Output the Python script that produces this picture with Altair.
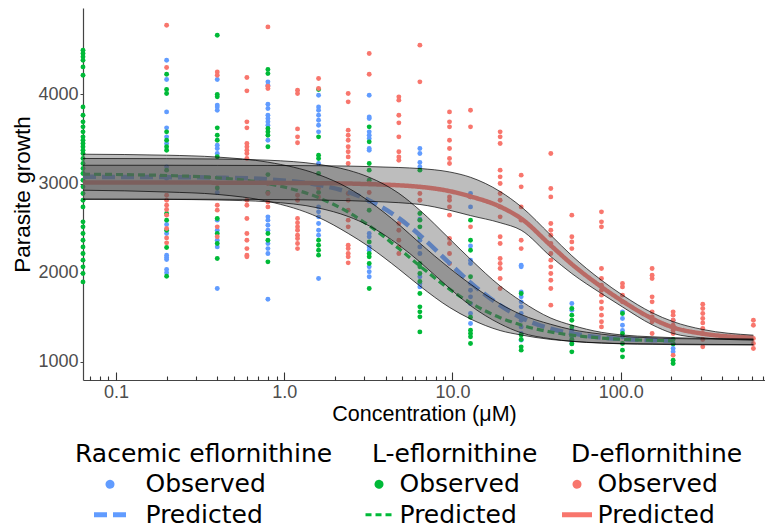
import altair as alt
import pandas as pd

COMPOUNDS = ["Racemic eflornithine", "L-eflornithine", "D-eflornithine"]
POINT_COLORS = ["#619CFF", "#00BA38", "#F8766D"]

# ---- observed values (concentration -> growth readings) ----
RAC_OBS = {
    0.2: [4384, 4167, 3804, 3625, 3524, 3449, 3187, 3056, 2540, 2439, 2196, 2170, 2147, 2035, 1998],
    0.4: [4167, 3880, 3860, 3823, 3430, 3393, 3337, 2900, 2589, 2476, 2364, 2289, 1822],
    0.8: [4141, 4103, 3890, 3842, 3767, 3730, 3692, 3654, 3486, 2626, 2589, 2532, 2476, 2327, 2270, 2214, 1702],
    1.6: [3991, 3860, 3823, 3767, 3711, 3654, 3580, 3224, 2738, 2682, 2626, 2552, 2476, 2420, 1934],
    3.2: [3991, 3748, 3730, 3580, 3542, 3505, 3393, 3374, 2800, 2439, 2402, 2289, 2252, 2065, 2010, 1953],
    6.4: [3393, 3337, 3236, 3187, 2600, 2364, 2289, 2214, 1953, 1878, 1840],
    12.8: [2888, 2850, 2738, 2300, 2140, 2103, 1878, 1803, 1728, 1653, 1541, 1429],
    25.6: [2084, 2065, 1784, 1728, 1672, 1616, 1541, 1466, 1391, 1317, 1242],
    51.2: [1653, 1578, 1354, 1279, 1242, 1204],
    102.4: [1560, 1485, 1410, 1350, 1279],
    204.8: [1466, 1391, 1204, 1148, 1111],
}
L_OBS = {
    0: [4496, 4459, 4422, 4384, 4309, 4216, 3860, 3767, 3692, 3636, 3580, 3524, 3486, 3449, 3412, 3374,
        3337, 3281, 3224, 3168, 3112, 3037, 2963, 2888, 2813, 2738, 2570, 2514, 2439, 2364, 2289, 2214,
        2140, 2065, 1990, 1896],
    0.2: [4227, 4055, 4010, 3580, 3486, 3412, 3374, 3150, 2663, 2589, 2476, 2282, 1960],
    0.4: [4665, 3999, 3973, 3625, 3542, 3486, 3300, 2950, 2607, 2439, 2327, 2158],
    0.8: [4279, 4234, 3617, 3580, 3542, 3412, 3100, 2900, 2439, 2364, 2121],
    1.6: [4055, 3524, 3318, 3281, 3112, 2900, 2364, 2308, 2252, 2196],
    3.2: [3636, 3468, 3224, 3150, 3037, 2700, 2345, 2214, 2177, 2103, 1822],
    6.4: [3150, 2663, 2589, 2514, 2402, 2103, 2065, 1990, 1900, 1766, 1616, 1560, 1504, 1335],
    12.8: [2589, 2364, 2252, 1953, 1500, 1354, 1317, 1279, 1204],
    25.6: [1766, 1300, 1250, 1167, 1130],
    51.2: [1597, 1523, 1466, 1391, 1250, 1200, 1111],
    102.4: [1541, 1317, 1204, 1130, 1055],
    204.8: [1250, 1200, 1017, 980],
}
D_OBS = {
    0.2: [4777, 4302, 2869, 2813, 2757, 2708, 2645, 2495, 2390, 2334],
    0.4: [4253, 4216, 3000, 2757, 2701, 2514, 2402],
    0.6: [4190, 4040, 3692, 3625, 3449, 3412, 3374, 3337, 3281, 2813, 2757, 2607, 2439, 2364, 2270, 2196, 2177],
    0.8: [4758, 4092, 4066, 3000, 2888, 2794, 2738],
    1.2: [4047, 4010, 3613, 3524, 3457, 2869, 2813, 2607, 2559, 2514, 2476, 2420, 2383, 2327, 2270],
    1.6: [4178, 4066, 2950, 2850],
    2.4: [4010, 3917, 3599, 3542, 3486, 3412, 3356, 3299, 3224, 2888, 2813, 2701, 2589, 2514, 2308, 2270, 2214, 2177, 2110],
    3.2: [4459, 4227, 3000, 2900],
    4.8: [3973, 3936, 3767, 3681, 3524, 3356, 3299, 3262, 2551, 2476, 2364, 2289, 2214],
    6.4: [4553, 4141, 2888, 2813],
    9.6: [3804, 3692, 3636, 3486, 3393, 3281, 3224, 2850, 2813, 2738, 2645, 2383, 2327, 2214, 2103],
    12.8: [3823, 3636, 2850, 2514],
    19.2: [3580, 3524, 3449, 3150, 3075, 3000, 2888, 2813, 2738, 2626, 2402, 2327, 2158, 2103, 2047, 1934, 1822],
    25.6: [3094, 2963, 2738, 2589, 2364, 2270],
    38.4: [3337, 2944, 2850, 2552, 2476, 2420, 2327, 2214, 2140, 2065, 1990, 1915, 1822, 1635],
    51.2: [2645, 2402, 2345, 2270],
    76.8: [2682, 2570, 2514, 2047, 1934, 1859, 1803, 1747, 1672, 1597, 1523, 1448, 1391],
    102.4: [1878, 1840, 1747, 1672],
    153.6: [2047, 1972, 1934, 1728, 1672, 1560, 1504, 1448, 1317, 1242],
    204.8: [1560, 1523, 1466, 1410, 1354, 1317, 1073],
    307.2: [1646, 1597, 1541, 1485, 1436, 1373, 1317, 1249, 1167],
    614.4: [1466, 1410, 1260, 1204, 1148],
}

# ---- predicted curves and confidence bands ----
CURVE_CONC = [0.0637, 0.2, 0.4, 0.8, 1.6, 2.4, 3.2, 4.8, 6.4, 9.6, 12.8, 19.2, 25.6, 38.4,
              51.2, 76.8, 102.4, 153.6, 204.8, 307.2, 614.4]
RAC_PRED = [3075, 3072, 3066, 3047, 2985, 2903, 2810, 2611, 2420, 2106, 1888, 1633, 1495, 1370,
            1318, 1272, 1255, 1242, 1235]
L_PRED = [3105, 3090, 3065, 2999, 2842, 2679, 2527, 2270, 2075, 1815, 1661, 1494, 1412, 1334,
          1298, 1266, 1252, 1240, 1235]
D_PRED = [3011, 3011, 3010, 3008, 3004, 3000, 2993, 2980, 2963, 2915, 2855, 2740, 2607, 2305,
          2095, 1840, 1680, 1485, 1385, 1315, 1270]
RAC_UP = [3281, 3279, 3275, 3262, 3215, 3150, 3070, 2890, 2700, 2380, 2150, 1850, 1680, 1490,
          1410, 1330, 1300, 1280, 1270, 1262, 1255]
RAC_LO = [2824, 2822, 2815, 2795, 2725, 2630, 2525, 2310, 2120, 1825, 1630, 1425, 1325, 1258,
          1228, 1210, 1204, 1200, 1198, 1195, 1192]
L_UP = [3329, 3318, 3297, 3240, 3100, 2950, 2800, 2540, 2330, 2050, 1870, 1650, 1530, 1420,
        1360, 1310, 1285, 1268, 1260, 1255, 1250]
L_LO = [2925, 2905, 2878, 2800, 2620, 2440, 2290, 2040, 1850, 1610, 1480, 1350, 1300, 1250,
        1230, 1210, 1200, 1195, 1192, 1190, 1188]
D_UP = [3205, 3205, 3204, 3203, 3200, 3196, 3190, 3180, 3168, 3130, 3070, 2910, 2740, 2420,
        2190, 1915, 1748, 1550, 1450, 1362, 1298]
D_LO = [2824, 2824, 2823, 2820, 2815, 2808, 2800, 2785, 2765, 2700, 2640, 2560, 2476, 2180,
        1990, 1765, 1615, 1415, 1317, 1268, 1242]

X_LABELS = [0.1, 1, 10, 100]
Y_LABELS = [1000, 2000, 3000, 4000]
MAJOR_TICKS = [0.1, 1, 10, 100]
MINOR_TICKS = [0.07, 0.08, 0.09,
               0.2, 0.3, 0.4, 0.5, 0.6, 0.7, 0.8, 0.9,
               2, 3, 4, 5, 6, 7, 8, 9,
               20, 30, 40, 50, 60, 70, 80, 90,
               200, 300, 400, 500, 600, 700]

# ---- tables ----
obs_rows = []
for name, obs in zip(COMPOUNDS, [RAC_OBS, L_OBS, D_OBS]):
    for c, vals in obs.items():
        for v in vals:
            obs_rows.append({"compound": name, "conc": c, "growth": v})
obs_df = pd.DataFrame(obs_rows)

pred_frames = {}
for name, pred in zip(COMPOUNDS, [RAC_PRED, L_PRED, D_PRED]):
    pred_frames[name] = pd.DataFrame({"conc": CURVE_CONC[:len(pred)], "pred": pred})

band_rows = []
edge_rows = []
for name, up, lo in zip(COMPOUNDS, [RAC_UP, L_UP, D_UP], [RAC_LO, L_LO, D_LO]):
    for c, u, l in zip(CURVE_CONC, up, lo):
        band_rows.append({"compound": name, "conc": c, "up": u, "lo": l})
        edge_rows.append({"key": name + " up", "conc": c, "val": u})
        edge_rows.append({"key": name + " lo", "conc": c, "val": l})
band_df = pd.DataFrame(band_rows)
edge_df = pd.DataFrame(edge_rows)

W, H = 682, 372
xs = alt.Scale(type="log", domain=[0.0637, 720], nice=False)
ys = alt.Scale(domain=[795, 4970], nice=False, zero=False)

AX_FONT = "Liberation Sans"
LEG_FONT = "DejaVu Sans"

x_axis = alt.Axis(values=X_LABELS, format=".1f", ticks=False, tickSize=0, labelPadding=3,
                  labelFont=AX_FONT, labelFontSize=18, labelColor="#4d4d4d", labelFlush=False,
                  domainColor="#444444", domainWidth=1.2, grid=False,
                  titleFont=AX_FONT, titleFontSize=21.5, titleFontWeight="normal",
                  titleColor="black", titlePadding=2)
y_axis = alt.Axis(values=Y_LABELS, format="d", tickSize=3, tickColor="#444444", labelPadding=2,
                  labelFont=AX_FONT, labelFontSize=18, labelColor="#4d4d4d",
                  domainColor="#444444", domainWidth=1.2, grid=False,
                  titleFont=AX_FONT, titleFontSize=22.5, titleFontWeight="normal",
                  titleColor="black", titlePadding=3)


def inner_ticks(values, size):
    # ticks pointing up into the plot from the bottom edge (log tick annotation)
    return alt.Axis(orient="top", offset=-H, values=values, labels=False, domain=False,
                    grid=False, title=None, ticks=True, tickColor="#333333", tickWidth=1.1,
                    tickSize=size)


points = alt.Chart(obs_df).transform_calculate(
    xc="max(datum.conc, 0.0637)"
).mark_circle(size=24, opacity=1).encode(
    x=alt.X("xc:Q", scale=xs, axis=x_axis, title="Concentration (μM)"),
    y=alt.Y("growth:Q", scale=ys, axis=y_axis, title="Parasite growth"),
    color=alt.Color("compound:N", scale=alt.Scale(domain=COMPOUNDS, range=POINT_COLORS), legend=None),
)

line_styles = [
    (COMPOUNDS[0], POINT_COLORS[0], [13, 6], 4.5),
    (COMPOUNDS[1], POINT_COLORS[1], [7, 4], 3.2),
    (COMPOUNDS[2], POINT_COLORS[2], [1, 0], 4.5),
]
lines = []
for name, col, dash, sw in line_styles:
    lines.append(
        alt.Chart(pred_frames[name]).mark_line(
            color=col, strokeDash=dash, strokeWidth=sw, interpolate="monotone"
        ).encode(
            x=alt.X("conc:Q", scale=xs, axis=None),
            y=alt.Y("pred:Q", scale=ys, axis=None),
        )
    )

bands = alt.Chart(band_df).mark_area(color="#595959", opacity=0.4, interpolate="monotone").encode(
    x=alt.X("conc:Q", scale=xs, axis=inner_ticks(MINOR_TICKS, 4)),
    y=alt.Y("lo:Q", scale=ys, axis=None),
    y2="up:Q",
    detail="compound:N",
)

edges = alt.Chart(edge_df).mark_line(color="black", strokeWidth=0.7, interpolate="monotone").encode(
    x=alt.X("conc:Q", scale=xs, axis=inner_ticks(MAJOR_TICKS, 8)),
    y=alt.Y("val:Q", scale=ys, axis=None),
    detail="key:N",
)

LEG_DOMAIN = ["Observed", "Predicted"]
legend_df = pd.DataFrame({"entry": LEG_DOMAIN})
LEG_Y = 434.3


def legend_layer(title, color, dash, stroke_w, obs_size, pred_size, lx, sym_off, lab_off):
    leg = alt.Legend(title=title, orient="none", legendX=lx, legendY=LEG_Y, padding=0,
                     titleFont=LEG_FONT, titleFontSize=25, titleFontWeight="normal", titleColor="black",
                     labelFont=LEG_FONT, labelFontSize=25, labelColor="black",
                     symbolOffset=sym_off, labelOffset=lab_off, symbolStrokeWidth=stroke_w,
                     titlePadding=4.5, rowPadding=4.5, titleLimit=500, labelLimit=400)
    return alt.Chart(legend_df).transform_filter("false").mark_point(
        filled=True, strokeWidth=stroke_w, opacity=1
    ).encode(
        fill=alt.Fill("entry:N", scale=alt.Scale(domain=LEG_DOMAIN, range=[color, color]), legend=leg),
        stroke=alt.Stroke("entry:N", scale=alt.Scale(domain=LEG_DOMAIN, range=[color, color]), legend=leg),
        shape=alt.Shape("entry:N", scale=alt.Scale(domain=LEG_DOMAIN, range=["circle", "M-2,0H2"]), legend=leg),
        size=alt.Size("entry:N", scale=alt.Scale(type="ordinal", domain=LEG_DOMAIN, range=[obs_size, pred_size]), legend=leg),
        strokeDash=alt.StrokeDash("entry:N", scale=alt.Scale(domain=LEG_DOMAIN, range=[[1, 0], dash]), legend=leg),
    )


leg_rac = legend_layer(COMPOUNDS[0], POINT_COLORS[0], [13, 6], 5, 16, 256, 75 - 83, 22.5, 23)
leg_l = legend_layer(COMPOUNDS[1], POINT_COLORS[1], [6, 4], 3, 36, 182, 372 - 83, -5.5, 8)
leg_d = legend_layer(COMPOUNDS[2], POINT_COLORS[2], [1, 0], 5, 16, 225, 571 - 83, -6.5, 8)

chart = alt.layer(
    points, *lines, bands, edges, leg_rac, leg_l, leg_d
).resolve_scale(
    color="independent", fill="independent", stroke="independent", shape="independent",
    size="independent", strokeDash="independent"
).resolve_axis(
    x="independent", y="independent"
).properties(
    width=W, height=H,
    autosize=alt.AutoSizeParams(type="none"),
    padding={"left": 75, "top": 0, "right": 0, "bottom": 149},
    background="white",
).configure_view(stroke=None)

chart.save("out.html", embed_options={"renderer": "svg", "actions": False})
